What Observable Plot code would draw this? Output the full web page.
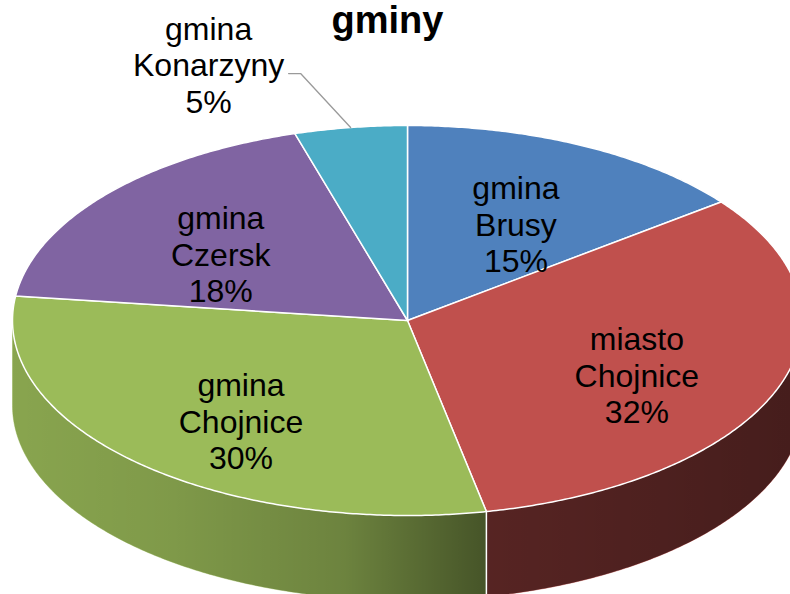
<!DOCTYPE html>
<html><head><meta charset="utf-8">
<script src="https://cdn.jsdelivr.net/npm/d3@7"></script>
<script src="https://cdn.jsdelivr.net/npm/@observablehq/plot@0.6"></script>
<style>html,body{margin:0;padding:0;overflow:hidden;background:#fff}</style>
</head><body><div id="chart"></div>
<script>
// ---- data ----
const title = "gminy";
const names = ["gmina Brusy", "miasto Chojnice", "gmina Chojnice", "gmina Czersk", "gmina Konarzyny"];
const shares = [14.6, 32.2, 30.2, 18.4, 4.6];
const colors = ["#4F81BD", "#C0504D", "#9BBB59", "#8064A2", "#4BACC6"];

// ---- layout ----
const W = 790, H = 594;
const xRange = [12, 802], yRange = [125, 515];
const pxX = (xRange[1] - xRange[0]) / 2, pxY = (yRange[1] - yRange[0]) / 2;
const depth = 85 / pxY;
const font = "'Liberation Sans', Arial, sans-serif";

const total = d3.sum(shares);
let acc = 0;
const slices = shares.map((v, i) => {
  const a0 = acc / total * 2 * Math.PI; acc += v;
  const a1 = acc / total * 2 * Math.PI;
  return {i, name: names[i], share: v, color: colors[i], a0, a1, mid: (a0 + a1) / 2};
});
const arc = (a0, a1) => {
  const n = Math.max(2, Math.ceil((a1 - a0) / (Math.PI / 360)));
  return d3.range(n + 1).map(k => a0 + (a1 - a0) * k / n);
};
const P = (a, off = 0) => ({x: Math.sin(a), y: Math.cos(a) - off});

const marks = [];
// side walls (front half only)
const F0 = Math.PI / 2, F1 = 3 * Math.PI / 2;
for (const s of slices) {
  const b0 = Math.max(s.a0, F0), b1 = Math.min(s.a1, F1);
  if (b0 >= b1) continue;
  const pts = [...arc(b0, b1).map(a => P(a)), ...arc(b0, b1).reverse().map(a => P(a, depth))];
  marks.push(Plot.line(pts, {x: "x", y: "y", fill: s.color, stroke: s.color, strokeWidth: 0.5, curve: "linear-closed"}));
}
// shading overlay on the wall
const wallAll = [...arc(F0, F1).map(a => P(a)), ...arc(F0, F1).reverse().map(a => P(a, depth))];
marks.push(Plot.line(wallAll, {x: "x", y: "y", fill: "url(#wallShade)", stroke: "none", curve: "linear-closed"}));
// wall boundary lines
const bounds = slices.map(s => s.a1).filter(a => a > F0 && a < F1);
marks.push(Plot.link(bounds, {x1: a => Math.sin(a), y1: a => Math.cos(a), x2: a => Math.sin(a), y2: a => Math.cos(a) - depth, stroke: "white", strokeWidth: 1.5}));
// top faces
for (const s of slices) {
  const pts = [{x: 0, y: 0}, ...arc(s.a0, s.a1).map(a => P(a))];
  marks.push(Plot.line(pts, {x: "x", y: "y", fill: s.color, stroke: "white", strokeWidth: 1.5, curve: "linear-closed"}));
}
// labels
const pct = s => Math.round(s.share / total * 1000) / 10;
const labelText = s => s.name.split(" ").join("\n") + "\n" + Math.round(pct(s)) + "%";
const inside = slices.filter(s => s.share / total >= 0.08);
const outside = slices.filter(s => s.share / total < 0.08);
const r = 0.62;
marks.push(Plot.text(inside, {x: s => r * Math.sin(s.mid), y: s => r * Math.cos(s.mid), dy: 12,
  text: labelText, fontSize: 32, lineHeight: 1.14, lineAnchor: "middle", fill: "black"}));
for (const s of outside) {
  const e = P(s.mid);
  const leader = [e, {x: e.x - 50 / pxX, y: e.y + 54 / pxY}, {x: e.x - 62 / pxX, y: e.y + 54 / pxY}];
  marks.push(Plot.line(leader, {x: "x", y: "y", stroke: "#9a9a9a", strokeWidth: 1.3}));
  marks.push(Plot.text([s], {x: () => e.x, y: () => e.y, dx: -142, dy: -63, text: labelText,
    fontSize: 32, lineHeight: 1.14, lineAnchor: "middle", fill: "black"}));
}
// title
marks.push(Plot.text([title], {frameAnchor: "top", dx: -8, dy: 20, text: d => d, fontSize: 38,
  fontWeight: "bold", lineAnchor: "middle", fill: "black"}));

const chart = Plot.plot({
  width: W, height: H, margin: 0,
  style: {fontFamily: font, background: "white", overflow: "hidden"},
  x: {domain: [-1, 1], range: xRange, axis: null},
  y: {domain: [1, -1], range: yRange, axis: null},
  marks
});
const defs = d3.select(chart).insert("defs", ":first-child");
const g = defs.append("linearGradient").attr("id", "wallShade").attr("x1", 0).attr("x2", 1).attr("y1", 0).attr("y2", 0);
[[0, 0.12], [0.2, 0.18], [0.42, 0.3], [0.6, 0.55], [1, 0.64]].forEach(([o, a]) =>
  g.append("stop").attr("offset", o).attr("stop-color", "black").attr("stop-opacity", a));
document.getElementById("chart").appendChild(chart);
</script>
</body></html>
